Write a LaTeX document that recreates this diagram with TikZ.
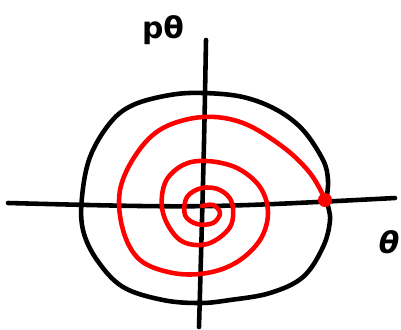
\documentclass[tikz,border=0pt]{standalone}
\usepackage{fontspec}
\setmainfont{DejaVu Sans}
\tikzset{
  curve/.style={line width=2.6pt, line cap=round, line join=round},
  lbl/.style={font=\fontsize{17}{17}\selectfont\bfseries, inner sep=0pt},
}
\begin{document}
\begin{tikzpicture}[x=0.02cm, y=-0.02cm]
   \useasboundingbox (0,0) rectangle (401,329);
      % axis ends
      \coordinate (xl) at (8,203);
      \coordinate (xm) at (203,208);
      \coordinate (xr) at (395,198);
      \coordinate (yt) at (206,40);
      \coordinate (ym) at (204,150);
      \coordinate (yb) at (199,327);
      \node[lbl] (ptheta) at (163,30) {pθ};
      \node[lbl, font=\fontsize{17}{17}\selectfont\bfseries\itshape] (theta) at (389,242) {θ};
      \draw[curve] (xl) .. controls (xm) .. (xr);
      \draw[curve] (yt) .. controls (ym) .. (yb);
      % orbit
      \draw[curve] plot[smooth cycle, tension=0.6] coordinates {
         (203,93) (243,97) (277,110) (303,130) (323,160) (328,180) (327,200)
         (330,220) (323,247) (303,277) (270,293) (230,300) (200,303)
         (163,300) (123,287) (97,260) (83,230) (82,197) (90,157)
         (110,123) (133,105) (170,95)};
      % spiral
      \draw[curve, red] plot[smooth, tension=0.6] coordinates {
         (202,206) (213,205) (220,213) (213,223) (197,224) (185,215)
         (187,197) (202,188) (220,190) (232,203) (230,227) (207,244)
         (180,240) (163,213) (165,183) (183,165) (207,161) (237,168)
         (260,187) (268,213) (260,240) (237,262) (207,273) (173,273)
         (140,260) (123,230) (120,190) (137,153) (163,128) (203,117)
         (243,123) (283,147) (310,173) (325,199)};
      \node[circle, fill=red, inner sep=0pt, minimum size=8pt] (end) at (325,200) {};
   \end{tikzpicture}
\end{document}
